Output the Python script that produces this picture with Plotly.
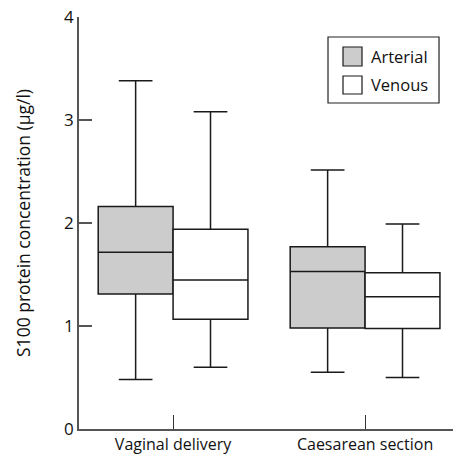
import plotly.graph_objects as go

categories = ["Vaginal delivery", "Caesarean section"]
series_names = ["Arterial", "Venous"]
series_fill = ["#cccccc", "#ffffff"]
arterial_low = [0.48, 0.55]
arterial_q1 = [1.31, 0.98]
arterial_median = [1.715, 1.53]
arterial_q3 = [2.16, 1.77]
arterial_high = [3.38, 2.515]
venous_low = [0.60, 0.50]
venous_q1 = [1.065, 0.975]
venous_median = [1.447, 1.285]
venous_q3 = [1.94, 1.517]
venous_high = [3.08, 1.99]
y_ticks = [0, 1, 2, 3, 4]

FONT = "Open Sans"
fig = go.Figure()
fig.add_trace(go.Box(
    name=series_names[0], x=categories,
    q1=arterial_q1, median=arterial_median, q3=arterial_q3,
    lowerfence=arterial_low, upperfence=arterial_high,
    fillcolor=series_fill[0], line=dict(color="#1a1a1a", width=1.5),
    whiskerwidth=0.45, boxpoints=False, hoverinfo="skip",
))
fig.add_trace(go.Box(
    name=series_names[1], x=categories,
    q1=venous_q1, median=venous_median, q3=venous_q3,
    lowerfence=venous_low, upperfence=venous_high,
    fillcolor=series_fill[1], line=dict(color="#1a1a1a", width=1.5),
    whiskerwidth=0.45, boxpoints=False, hoverinfo="skip",
))

# manual legend (paper coordinates)
shapes = [dict(type="rect", xref="paper", yref="paper", x0=0.6658, x1=0.9626,
               y0=0.7913, y1=0.9515, line=dict(color="#222222", width=1.2),
               fillcolor="white", layer="above")]
annotations = []
sq_y = [(0.8811, 0.9272), (0.8131, 0.8568)]
txt_y = [0.9053, 0.835]
for i, name in enumerate(series_names):
    shapes.append(dict(type="rect", xref="paper", yref="paper", x0=0.7059, x1=0.7567,
                       y0=sq_y[i][0], y1=sq_y[i][1], line=dict(color="#1a1a1a", width=1.2),
                       fillcolor=series_fill[i], layer="above"))
    annotations.append(dict(text=name, xref="paper", yref="paper", x=0.7754, y=txt_y[i],
                            xanchor="left", yanchor="middle", showarrow=False,
                            font=dict(size=16.5, family=FONT, color="#111111")))

fig.update_layout(
    width=453, height=455,
    margin=dict(l=79, r=0, t=17, b=26, autoexpand=False),
    paper_bgcolor="white", plot_bgcolor="white",
    boxmode="group", boxgap=0.22, boxgroupgap=0,
    font=dict(family=FONT, size=15, color="#111111"),
    showlegend=False,
    shapes=shapes, annotations=annotations,
    xaxis=dict(
        type="category", range=[-0.49, 1.458], automargin=False,
        showline=True, linecolor="#555555", linewidth=1.5,
        ticks="inside", ticklen=14, tickcolor="#333333", tickwidth=1,
        showgrid=False, zeroline=False, tickfont=dict(size=16),
    ),
    yaxis=dict(
        range=[0, 4], tickvals=y_ticks, automargin=False,
        showline=True, linecolor="#555555", linewidth=1.5,
        ticks="inside", ticklen=13, tickcolor="#555555", tickwidth=1.5,
        showgrid=False, zeroline=False, tickfont=dict(size=17),
        title=dict(text="S100 protein concentration (µg/l)", font=dict(size=17.5), standoff=29),
    ),
)
fig.write_html("out.html", config={"displayModeBar": False},
               post_script="document.body.style.margin='0';document.body.style.overflow='hidden';")
